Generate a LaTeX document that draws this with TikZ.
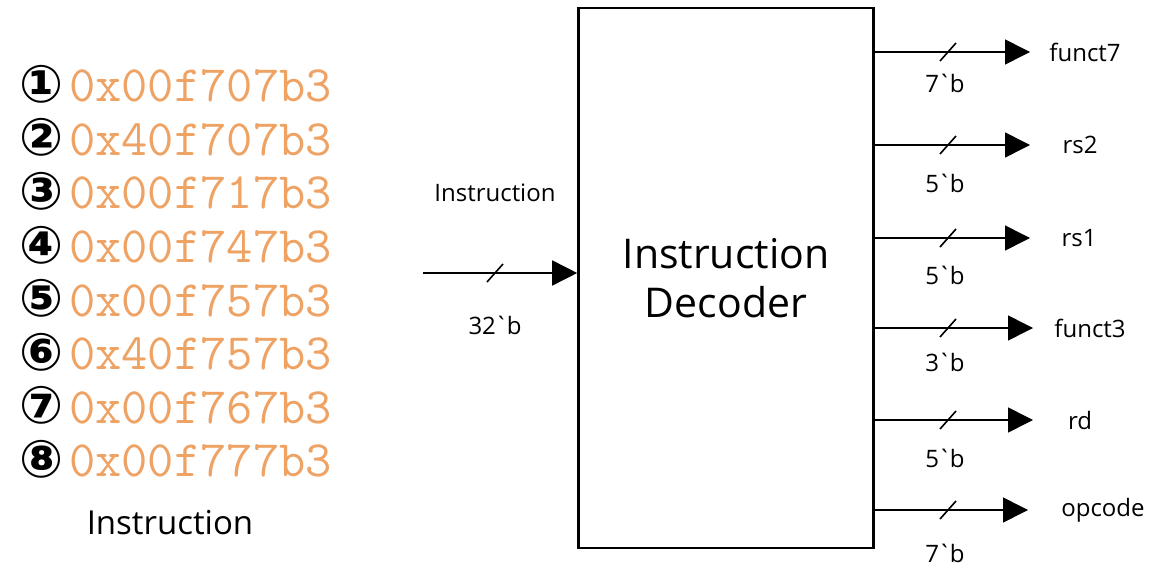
\documentclass[tikz,border=0pt]{standalone}
\usepackage{fontspec}
\setmainfont{Open Sans}
\newfontfamily\circfont{DejaVu Sans Bold}
\usetikzlibrary{arrows.meta}
\definecolor{hexorange}{RGB}{238,162,100}
\newcommand{\bitw}[1]{#1\kern-1.5pt\textasciigrave\kern-1.5pt b}
\tikzset{
	bus/.style={line width=1.6pt, -{Triangle[length=25pt,width=25pt]}},
	busslash/.style={line width=1.6pt},
	lbl/.style={font=\fontsize{24}{28}\selectfont},
	hexcode/.style={anchor=west, inner sep=0pt, text=hexorange, font=\ttfamily\fontsize{51}{51}\selectfont},
	circnum/.style={inner sep=0pt, font=\circfont\fontsize{52}{52}\selectfont},
}
\begin{document}
\begin{tikzpicture}[x=1pt, y=-1pt]
	\useasboundingbox (0,0) rectangle (1159,567);
	% instruction list
	\foreach \hex [count=\i] in {0x00f707b3, 0x40f707b3, 0x00f717b3, 0x00f747b3,
		0x00f757b3, 0x40f757b3, 0x00f767b3, 0x00f777b3} {
		\node[circnum] (c\i) at (42, {84+53.6*(\i-1)}) {\symbol{\numexpr 9311+\i\relax}};
		\node[hexcode] (h\i) at (69, {86+53.6*(\i-1)}) {\hex};
	}
	\node[font=\fontsize{33}{36}\selectfont] (listlbl) at (170, 523) {Instruction};

	% decoder block
	\node[draw, line width=2.6pt, minimum width=295pt, minimum height=540pt, align=center,
		font=\fontsize{41}{49}\selectfont] (dec) at (726, 278) {Instruction\\Decoder};

	% input bus
	\coordinate (in) at (423, 273);
	\draw[bus] (in) -- (in -| dec.west);
	\draw[busslash] (495, 273) ++(-8, 9) -- ++(16, -18);
	\node[lbl] (inname) at (495, 193) {Instruction};
	\node[lbl] (inwidth) at (495, 325) {\bitw{32}};

	% output buses
	\foreach \y/\name/\w/\nx/\wy/\ex in {52/funct7/7/1085/83/1030, 145/rs2/5/1080/183/1030,
		238/rs1/5/1079/275/1030, 328/funct3/3/1090/362/1033,
		420/rd/5/1080/458/1033, 510/opcode/7/1103/553/1028} {
		\coordinate (o-\name) at (\ex, \y);
		\draw[bus] (dec.east |- o-\name) -- (o-\name);
		\draw[busslash] (948, \y) ++(-8, 9) -- ++(16, -18);
		\node[lbl] (n-\name) at (\nx, \y) {\name};
		\node[lbl] (w-\name) at (945, \wy) {\bitw{\w}};
	}
\end{tikzpicture}
\end{document}
